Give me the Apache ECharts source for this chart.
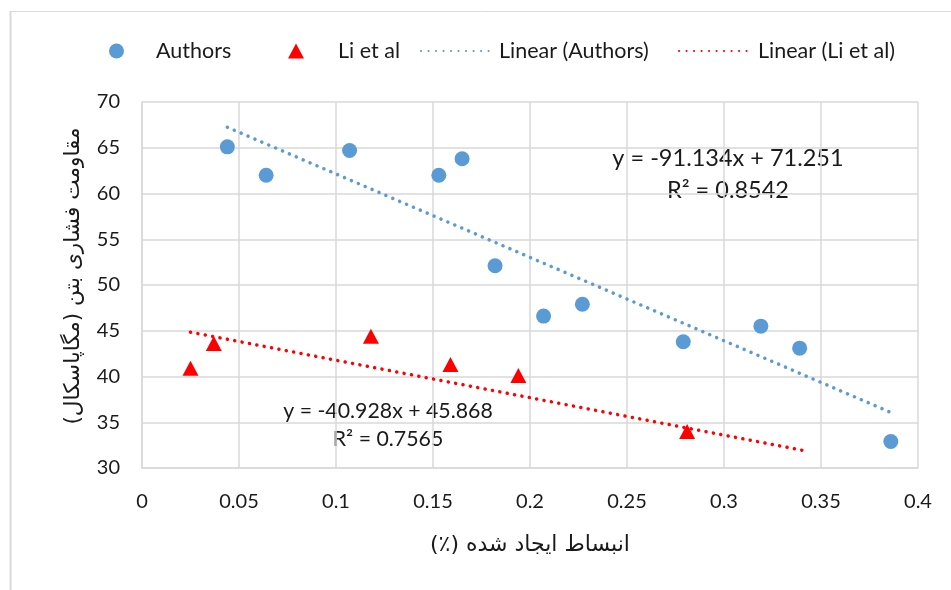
<!DOCTYPE html>
<html>
<head>
<meta charset="utf-8">
<script src="https://cdn.jsdelivr.net/npm/echarts@6/dist/echarts.min.js"></script>
<style>html,body{margin:0;padding:0;background:#fff}#c{width:951px;height:590px}</style>
</head>
<body>
<div id="c"></div>
<script>
// ---- data ----
var authorsX = [0.044, 0.064, 0.107, 0.153, 0.165, 0.182, 0.207, 0.227, 0.279, 0.319, 0.339, 0.386];
var authorsY = [65.1, 62.0, 64.7, 62.0, 63.8, 52.1, 46.6, 47.9, 43.8, 45.5, 43.1, 32.9];
var liX = [0.025, 0.037, 0.118, 0.159, 0.194, 0.281];
var liY = [40.9, 43.6, 44.4, 41.3, 40.1, 34.0];
var authorsFit = [-91.134, 71.251];   // slope, intercept
var liFit = [-40.928, 45.868];
var authorsFitRange = [0.044, 0.386];
var liFitRange = [0.025, 0.343];
var authorsEq = ['y = -91.134x + 71.251', 'R² = 0.8542'];
var liEq = ['y = -40.928x + 45.868', 'R² = 0.7565'];
var seriesNames = ['Authors', 'Li et al', 'Linear (Authors)', 'Linear (Li et al)'];
var xTitle = 'انبساط ایجاد شده (٪)';
var yTitle = 'مقاومت فشاری بتن (مگاپاسکال)';

function pairs(xs, ys) { return xs.map(function (x, i) { return [x, ys[i]]; }); }
function fitLine(fit, range) { return range.map(function (x) { return [x, fit[0] * x + fit[1]]; }); }
var RLM = '\u200F';

var FONT = 'Lato';
var BLUE = '#5B9BD5', RED = '#FF0000', GRID = '#d9d9d9', TXT = '#1a1a1a';
var dots = [0.1, 7.4];

function legendAt(left, name, w, h, pad, hideSymbol) {
  var l = {
    left: left, top: 35, data: [name], itemWidth: w, itemHeight: h,
    textStyle: { fontFamily: FONT, fontSize: 21.5, color: TXT, padding: [0, 0, 0, pad] },
    selectedMode: false
  };
  if (hideSymbol) l.itemStyle = { opacity: 0 };
  return l;
}

var chart = echarts.init(document.getElementById('c'), null, { renderer: 'canvas' });
chart.setOption({
  backgroundColor: '#fff',
  animation: false,
  legend: [
    legendAt(104, seriesNames[0], 15, 15, 27, false),
    legendAt(283, seriesNames[1], 16, 15, 29, false),
    legendAt(415, seriesNames[2], 73, 14, 0, true),
    legendAt(673, seriesNames[3], 74, 14, 0, true)
  ],
  grid: { left: 142, right: 33, top: 102, bottom: 122 },
  xAxis: {
    type: 'value', min: 0, max: 0.4, interval: 0.05,
    axisLine: { show: true, lineStyle: { color: GRID, width: 1.5 } },
    axisTick: { show: false },
    splitLine: { show: true, lineStyle: { color: GRID, width: 1.5 } },
    axisLabel: { fontFamily: FONT, fontSize: 20, color: TXT, margin: 24 },
    name: RLM + xTitle + RLM, nameLocation: 'middle', nameGap: 66,
    nameTextStyle: { fontFamily: 'DejaVu Sans', fontSize: 22, color: TXT }
  },
  yAxis: {
    type: 'value', min: 30, max: 70, interval: 5,
    axisLine: { show: true, lineStyle: { color: GRID, width: 1.5 } },
    axisTick: { show: false },
    splitLine: { show: true, lineStyle: { color: GRID, width: 1.5 } },
    axisLabel: { fontFamily: FONT, fontSize: 20, color: TXT, margin: 22 },
    name: yTitle, nameLocation: 'middle', nameGap: 58, nameRotate: 90,
    nameTextStyle: { fontFamily: 'DejaVu Sans', fontSize: 21.6, color: TXT, padding: [0, 0, 0, 18] }
  },
  series: [
    { name: seriesNames[0], type: 'scatter', symbol: 'circle', symbolSize: 15,
      itemStyle: { color: BLUE, opacity: 1 }, data: pairs(authorsX, authorsY), z: 5 },
    { name: seriesNames[1], type: 'scatter', symbol: 'triangle', symbolSize: [16, 15],
      itemStyle: { color: RED, opacity: 1 }, data: pairs(liX, liY), z: 5 },
    { name: seriesNames[2], type: 'line', showSymbol: false, symbol: 'none',
      lineStyle: { color: BLUE, width: 3.5, type: dots, cap: 'round' },
      itemStyle: { color: BLUE }, data: fitLine(authorsFit, authorsFitRange), z: 3 },
    { name: seriesNames[3], type: 'line', showSymbol: false, symbol: 'none',
      lineStyle: { color: RED, width: 3.5, type: dots, cap: 'round' },
      itemStyle: { color: RED }, data: fitLine(liFit, liFitRange), z: 3 }
  ],
  graphic: [
    { type: 'line', shape: { x1: 10.5, y1: 11, x2: 10.5, y2: 590 }, style: { stroke: GRID, lineWidth: 2 } },
    { type: 'line', shape: { x1: 10, y1: 11.5, x2: 951, y2: 11.5 }, style: { stroke: GRID, lineWidth: 1 } },
    { type: 'text', x: 728, y: 158, style: { text: authorsEq[0], fontFamily: FONT, fontSize: 23.5, fill: TXT, align: 'center', verticalAlign: 'middle' } },
    { type: 'text', x: 728, y: 190, style: { text: authorsEq[1], fontFamily: FONT, fontSize: 23.5, fill: TXT, align: 'center', verticalAlign: 'middle' } },
    { type: 'text', x: 388, y: 411, style: { text: liEq[0], fontFamily: FONT, fontSize: 21.3, fill: TXT, align: 'center', verticalAlign: 'middle' } },
    { type: 'text', x: 388, y: 439, style: { text: liEq[1], fontFamily: FONT, fontSize: 21.3, fill: TXT, align: 'center', verticalAlign: 'middle' } }
  ]
});
</script>
</body>
</html>
